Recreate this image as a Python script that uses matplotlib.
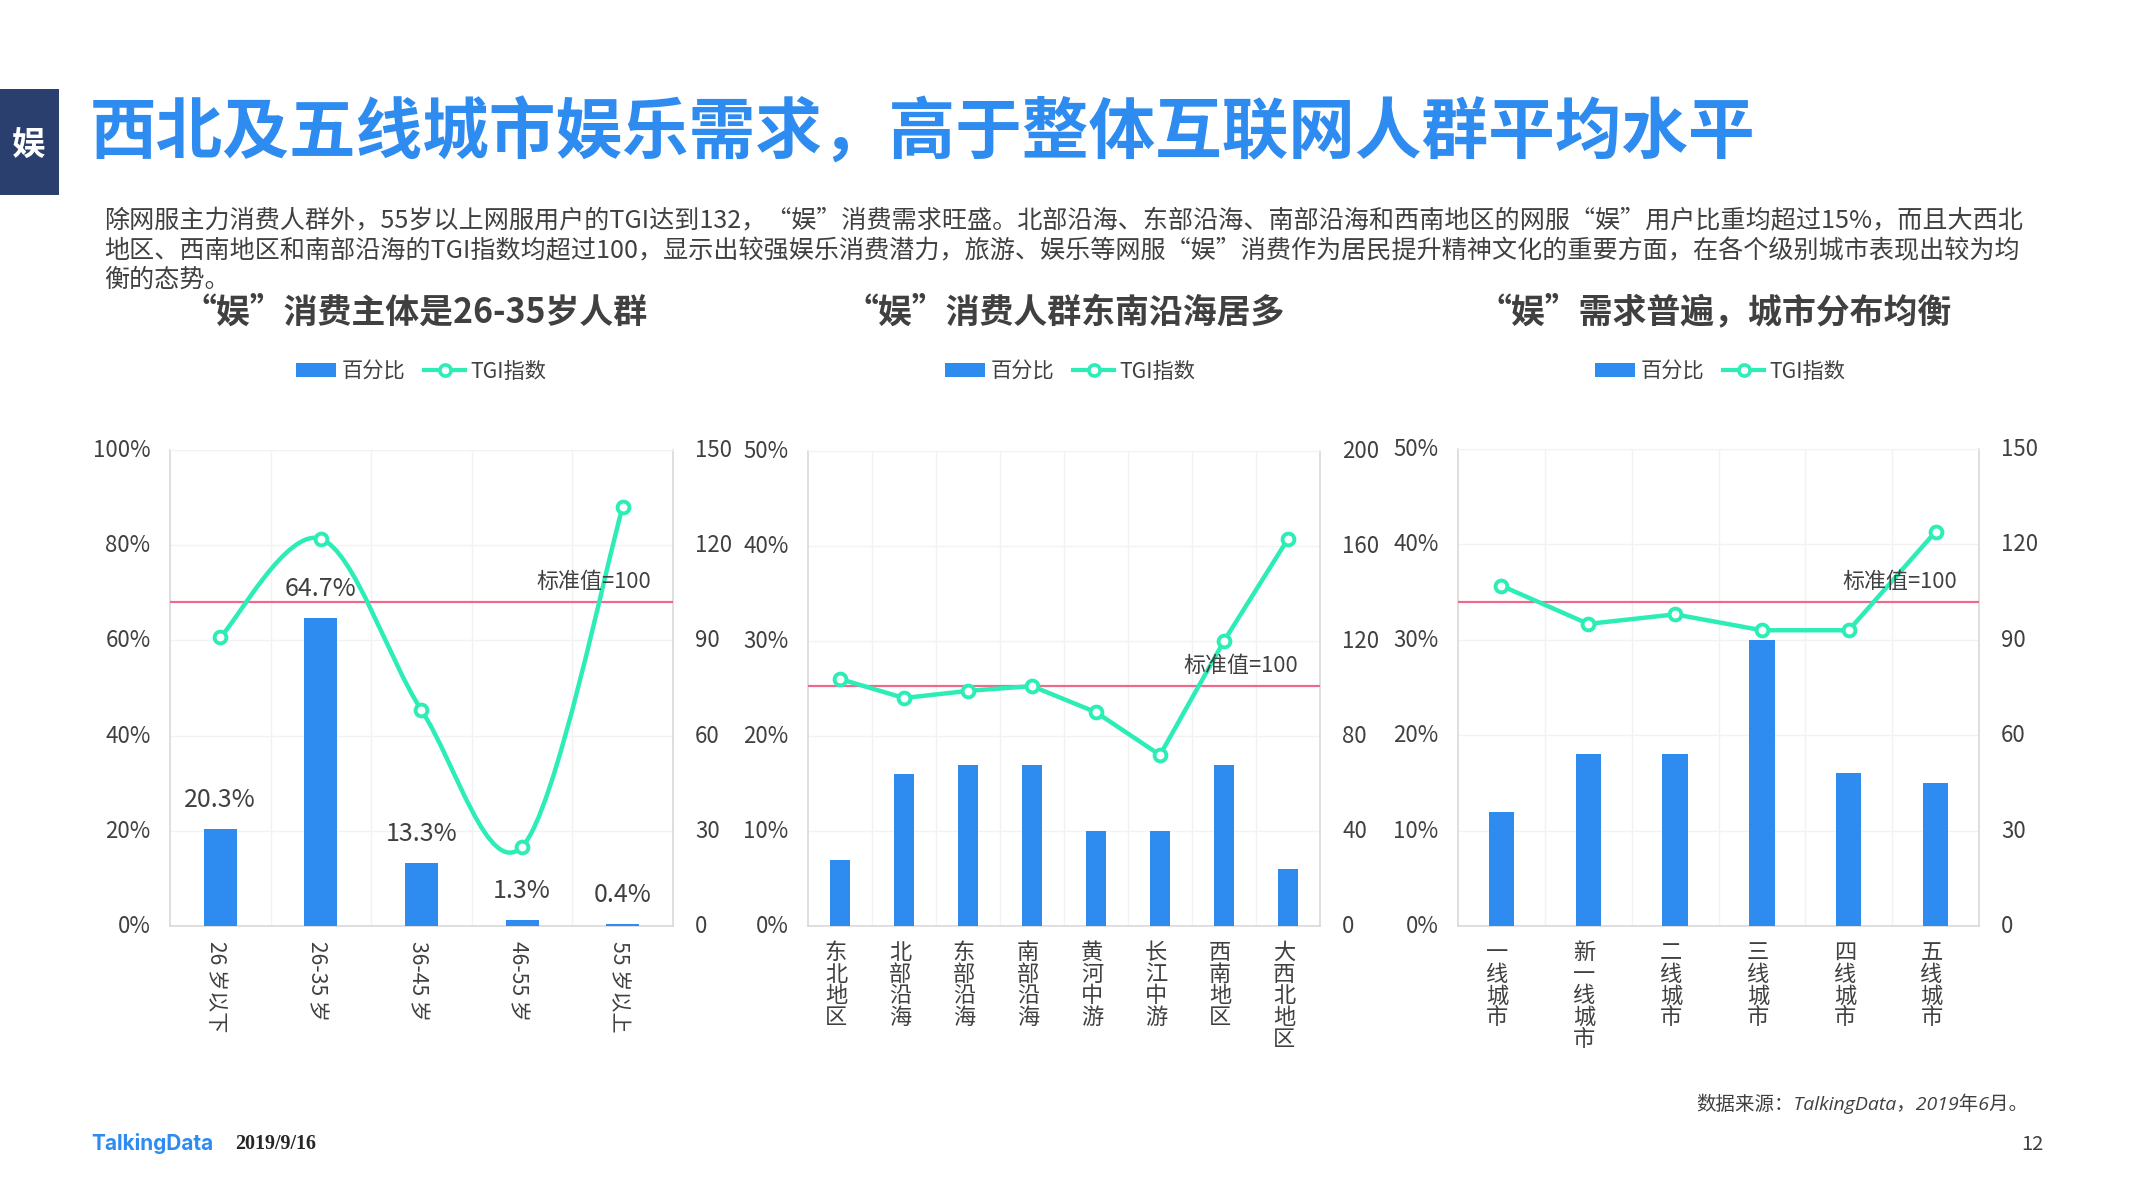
import matplotlib
matplotlib.use("Agg")
import matplotlib.pyplot as plt
from matplotlib.patches import Patch, PathPatch, Rectangle
from matplotlib.lines import Line2D
from matplotlib.path import Path
from matplotlib.transforms import ScaledTranslation

plt.rcParams['font.family'] = ['Noto Sans CJK SC', 'DejaVu Sans']

W, H = 2132, 1199

BLUE = '#2E8BF0'
TEAL = '#2CEDB6'
RED = '#EE6A8C'
TEXT = '#404040'
GRID = '#F2F2F2'
EDGE = '#D9D9D9'

# chart 1 - age
age_labels = ['26 岁以下', '26-35 岁', '36-45 岁', '46-55 岁', '55 岁以上']
age_pct = [20.3, 64.7, 13.3, 1.3, 0.4]
age_tgi = [91, 122, 68, 25, 132]

# chart 2 - region
region_labels = ['东北地区', '北部沿海', '东部沿海', '南部沿海', '黄河中游', '长江中游', '西南地区', '大西北地区']
region_pct = [7, 16, 17, 17, 10, 10, 17, 6]
region_tgi = [104, 96, 99, 101, 90, 72, 120, 163]

# chart 3 - city tier
city_labels = ['一线城市', '新一线城市', '二线城市', '三线城市', '四线城市', '五线城市']
city_pct = [12, 18, 18, 30, 16, 15]
city_tgi = [107, 95, 98, 93, 93, 124]

title = '西北及五线城市娱乐需求，高于整体互联网人群平均水平'
body_lines = [
    '除网服主力消费人群外，55岁以上网服用户的TGI达到132，“娱”消费需求旺盛。北部沿海、东部沿海、南部沿海和西南地区的网服“娱”用户比重均超过15%，而且大西北',
    '地区、西南地区和南部沿海的TGI指数均超过100，显示出较强娱乐消费潜力，旅游、娱乐等网服“娱”消费作为居民提升精神文化的重要方面，在各个级别城市表现出较为均',
    '衡的态势。',
]
sub_titles = ['“娱”消费主体是26-35岁人群', '“娱”消费人群东南沿海居多', '“娱”需求普遍，城市分布均衡']


def smooth_path(xs, ys):
    # excel style smoothed line, bezier through the points
    n = len(xs)
    verts = [(xs[0], ys[0])]
    codes = [Path.MOVETO]
    for i in range(n - 1):
        a = max(i - 1, 0)
        b = min(i + 2, n - 1)
        verts.append((xs[i] + (xs[i + 1] - xs[a]) / 6, ys[i] + (ys[i + 1] - ys[a]) / 6))
        verts.append((xs[i + 1] - (xs[b] - xs[i]) / 6, ys[i + 1] - (ys[b] - ys[i]) / 6))
        verts.append((xs[i + 1], ys[i + 1]))
        codes += [Path.CURVE4] * 3
    return Path(verts, codes)


def nudge(labels, dx, dy):
    # shift tick labels by a few pixels
    for lab in labels:
        lab.set_transform(lab.get_transform() + ScaledTranslation(dx / 100, dy / 100, fig.dpi_scale_trans))


def draw_chart(box, labels, pct, tgi, pct_max, pct_ticks, tgi_max, tgi_ticks, bar_w,
               std, legend_x, smooth=False, show_values=False, vertical=True):
    x0, y0, x1, y1 = box
    ax = fig.add_axes([x0 / W, 1 - y1 / H, (x1 - x0) / W, (y1 - y0) / H])
    xs = list(range(len(labels)))

    ax.bar(xs, pct, width=bar_w, color=BLUE, zorder=3)
    ax.set_xlim(-0.5, len(labels) - 0.5)
    ax.set_ylim(0, pct_max)
    ax.set_yticks(pct_ticks)
    ax.set_yticklabels([f'{v}%' for v in pct_ticks])
    ax.set_xticks(xs)
    ax.set_xticks([i + 0.5 for i in xs[:-1]], minor=True)
    ax.grid(True, which='major', axis='y', color=GRID, lw=1, zorder=0)
    ax.grid(True, which='minor', axis='x', color=GRID, lw=1, zorder=0)
    ax.tick_params(axis='x', which='both', length=0, pad=11, labelsize=16, labelcolor=TEXT)
    ax.tick_params(axis='y', length=0, pad=14, labelsize=16, labelcolor=TEXT)
    if vertical:
        ax.set_xticklabels(['\n'.join(s) for s in labels], linespacing=0.92, va='top')
    else:
        ax.set_xticklabels(labels, rotation=270, va='top', fontsize=15.2)
    ax.spines['top'].set_color(GRID)
    for side in ['left', 'right', 'bottom']:
        ax.spines[side].set_color(EDGE)
        ax.spines[side].set_linewidth(1.2)
    nudge(ax.get_xticklabels(), -4, 0)
    nudge(ax.get_yticklabels(), 0, 2)

    if show_values:
        for x, v in zip(xs, pct):
            ax.annotate(f'{v}%', (x, v), xytext=(0, 21), textcoords='offset points',
                        ha='center', va='center', fontsize=18, color=TEXT, zorder=6)

    ax2 = ax.twinx()
    ax2.set_ylim(0, tgi_max)
    ax2.set_yticks(tgi_ticks)
    ax2.tick_params(axis='y', length=0, pad=16, labelsize=16, labelcolor=TEXT)
    for sp in ax2.spines.values():
        sp.set_visible(False)
    nudge(ax2.get_yticklabels(), 0, 2)

    ax2.axhline(std, color=RED, lw=1.6, zorder=2)
    ax2.annotate('标准值=100', (len(labels) - 0.5, std), xytext=(-16, 14.5),
                 textcoords='offset points', ha='right', va='center',
                 fontsize=15.8, color=TEXT, zorder=6)

    if smooth:
        ax2.add_patch(PathPatch(smooth_path(xs, tgi), fill=False, edgecolor=TEAL, lw=3.2, zorder=4))
        ax2.plot(xs, tgi, ls='none', marker='o', ms=8.5, mfc='white', mec=TEAL, mew=2.8, zorder=5)
    else:
        ax2.plot(xs, tgi, color=TEAL, lw=3.2, marker='o', ms=8.5, mfc='white', mec=TEAL, mew=2.8, zorder=4)

    handles = [
        Patch(facecolor=BLUE, label='百分比'),
        Line2D([0], [0], color=TEAL, lw=3, marker='o', ms=8, mfc='white', mec=TEAL, mew=2.6, label='TGI指数'),
    ]
    fig.legend(handles=handles, loc='center', bbox_to_anchor=(legend_x / W, 1 - 371.5 / H), ncol=2,
               frameon=False, fontsize=15.3, labelcolor=TEXT, handlelength=1.9, handleheight=0.62,
               handletextpad=0.25, columnspacing=0.9)


fig = plt.figure(figsize=(W / 100, H / 100), dpi=100, facecolor='white')

# header
fig.patches.append(Rectangle((0, 1 - 195 / H), 59 / W, 106 / H, transform=fig.transFigure,
                             facecolor='#2A3F6E', edgecolor='none'))
fig.text(29 / W, 1 - 145 / H, '娱', color='white', fontsize=24, weight='bold', ha='center', va='center')
fig.text(90 / W, 1 - 134 / H, title, color=BLUE, fontsize=48, weight='heavy', ha='left', va='center')

for line, y in zip(body_lines, [221, 251, 280]):
    fig.text(104 / W, 1 - y / H, line, color=TEXT, fontsize=18.05, ha='left', va='center')

for s, x in zip(sub_titles, [415, 1065, 1715]):
    fig.text(x / W, 1 - 312 / H, s, color=TEXT, fontsize=24.4, weight='bold', ha='center', va='center')

draw_chart((170, 450, 673, 926), age_labels, age_pct, age_tgi, 100, [0, 20, 40, 60, 80, 100],
           150, [0, 30, 60, 90, 120, 150], 0.33, 102, 421, smooth=True, show_values=True, vertical=False)
draw_chart((808, 451, 1320, 926), region_labels, region_pct, region_tgi, 50, [0, 10, 20, 30, 40, 50],
           200, [0, 40, 80, 120, 160, 200], 0.31, 101, 1070)
draw_chart((1458, 449, 1979, 926), city_labels, city_pct, city_tgi, 50, [0, 10, 20, 30, 40, 50],
           150, [0, 30, 60, 90, 120, 150], 0.29, 102, 1720)

# footer
fig.text(91 / W, 1 - 1144 / H, 'TalkingData', color=BLUE, fontsize=15, weight='bold', family='Inter',
         ha='left', va='center')
fig.text(235 / W, 1 - 1144 / H, '2019/9/16', color='#262626', fontsize=14.4, weight='bold',
         family='Liberation Serif', ha='left', va='center')
fig.text(2028 / W, 1 - 1104 / H, '数据来源：TalkingData，2019年6月。', color=TEXT, fontsize=14, style='italic',
         family=['Open Sans', 'Noto Sans CJK SC'], ha='right', va='center')
fig.text(2032 / W, 1 - 1144 / H, '12', color=TEXT, fontsize=14.5, ha='center', va='center')

fig.savefig('out.png', dpi=100)
